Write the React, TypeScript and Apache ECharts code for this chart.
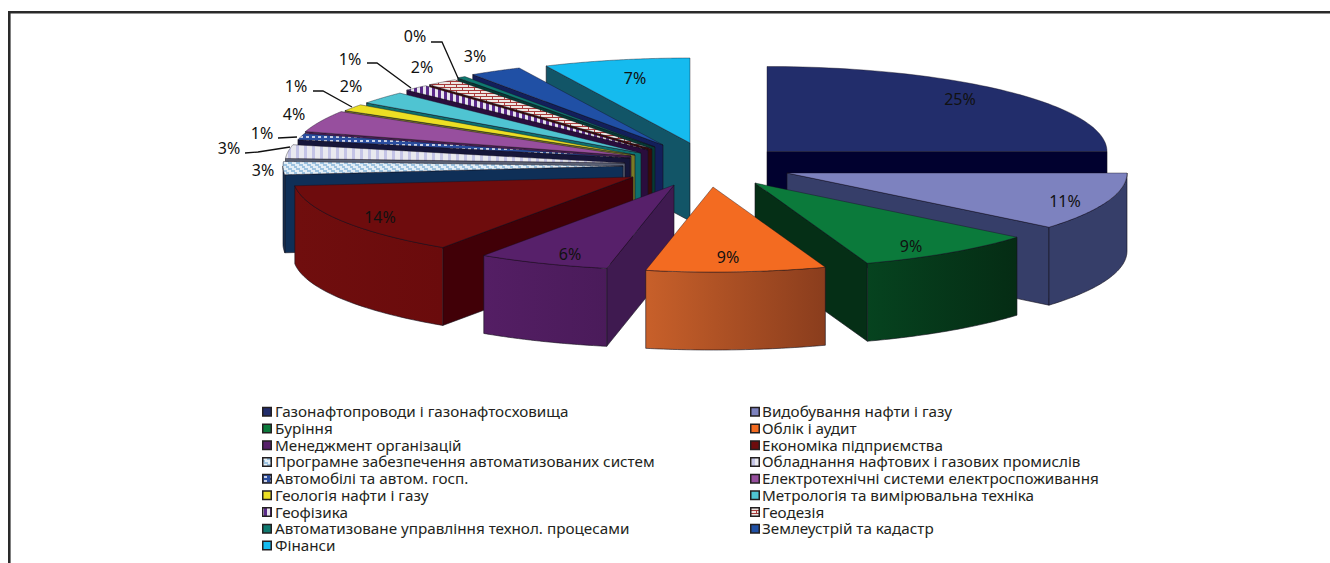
import React, { useEffect, useRef } from "react";
import * as echarts from "echarts";

const categories = [
  "Газонафтопроводи і газонафтосховища",
  "Видобування нафти і газу",
  "Буріння",
  "Облік і аудит",
  "Менеджмент організацій",
  "Економіка підприємства",
  "Програмне забезпечення автоматизованих систем",
  "Обладнання нафтових і газових промислів",
  "Автомобілі та автом. госп.",
  "Електротехнічні системи електроспоживання",
  "Геологія нафти і газу",
  "Метрологія та вимірювальна техніка",
  "Геофізика",
  "Геодезія",
  "Автоматизоване управління технол. процесами",
  "Землеустрій та кадастр",
  "Фінанси",
];
const shares = [25, 11, 8.64, 8.53, 6.28, 13.9, 2.5, 2.6, 1.2, 4.1, 1.3, 2.4, 1.2, 1.5, 0.4, 2.5, 6.95];

// layout of the exploded pie (one hub per slice, ellipse radii, extrusion)
const hubs = [
  [767, 151.5], [787, 173], [755, 183], [713, 187], [674, 185], [633, 177], [623, 166], [625, 163], [630, 158],
  [631, 156], [635, 155], [641, 153], [648, 150], [652, 149], [655, 147], [663, 145], [690, 143],
];
const labelSpots = [
  [960, 99], [1065, 201], [911, 246], [728, 257], [570, 254], [380, 217], [263, 170], [229, 148], [262, 133],
  [294, 114], [296, 86], [351, 86], [350, 59], [422, 67], [415, 36], [475, 56], [635, 78],
];
const leaders = [
  [[431, 42], [442, 42], [458, 78]],
  [[367, 63], [377, 63], [411, 88]],
  [[313, 91], [323, 91], [352, 107]],
  [[278, 138], [297, 137]],
  [[245, 153], [258, 152], [290, 147]],
];
const paintOrder = [0, 1, 2, 16, 15, 14, 13, 12, 11, 10, 9, 8, 7, 6, 5, 4, 3];
const topColors = [
  "#222d6b", "#7d82bf", "#0b7a3b", "#f36b21", "#57206a", "#6e0c0d", "p0", "p1", "p2",
  "#974f9e", "#ecdf24", "#4fc4d2", "p3", "p4", "#0f7a70", "#2050a5", "#15bbef",
];
const sideColors = [
  "#01012f", "#363e69", "#052f16", "#8e3f1e", "#3f1a50", "#410007", "#0f2f57", "#596074", "#16163a",
  "#4b1f55", "#7a7a26", "#0e6f6f", "#2a0d3d", "#3a0a0a", "#063a34", "#131f5a", "#125567",
];
const rimLeftColors = [
  "#01012f", "#363e69", "#06431f", "#c8602a", "#541e64", "#700e0e", "#0f2f57", "#596074", "#16163a",
  "#4b1f55", "#7a7a26", "#0e6f6f", "#2a0d3d", "#3a0a0a", "#063a34", "#131f5a", "#125567",
];
const rimRightColors = [
  "#01012f", "#363e69", "#052c14", "#8a3d1d", "#4a1b5a", "#6a0b0c", "#0f2f57", "#596074", "#16163a",
  "#4b1f55", "#7a7a26", "#0e6f6f", "#2a0d3d", "#3a0a0a", "#063a34", "#131f5a", "#125567",
];

const RX = 340;
const RY = 85;
const DEPTH = 78;
const FONT = '"Noto Sans", sans-serif';
const LEGEND_STRETCH = 1.09;

function makePattern(w: number, h: number, draw: (c: CanvasRenderingContext2D) => void) {
  const cv = document.createElement("canvas");
  cv.width = w;
  cv.height = h;
  draw(cv.getContext("2d") as CanvasRenderingContext2D);
  return { image: cv, repeat: "repeat" };
}

function buildPatterns(): Record<string, any> {
  return {
    p0: makePattern(8, 6, (c) => {
      c.fillStyle = "#e4eef6";
      c.fillRect(0, 0, 8, 6);
      c.fillStyle = "#9cc2e0";
      c.fillRect(0, 0, 4, 2);
      c.fillRect(3, 2, 4, 2);
      c.fillRect(6, 4, 2, 2);
      c.fillRect(0, 4, 1, 2);
    }),
    p1: makePattern(8, 4, (c) => {
      c.fillStyle = "#e9e9ef";
      c.fillRect(0, 0, 8, 4);
      c.fillStyle = "#c4c4e6";
      c.fillRect(0, 0, 3, 4);
    }),
    p2: makePattern(6, 4, (c) => {
      c.fillStyle = "#2b4ea0";
      c.fillRect(0, 0, 6, 4);
      c.fillStyle = "#c8cfe4";
      c.fillRect(0, 0, 3, 2);
    }),
    p3: makePattern(6, 4, (c) => {
      c.fillStyle = "#e8e4ee";
      c.fillRect(0, 0, 6, 4);
      c.fillStyle = "#5a2a8a";
      c.fillRect(0, 0, 3, 4);
    }),
    p4: makePattern(12, 6, (c) => {
      c.fillStyle = "#eee6e2";
      c.fillRect(0, 0, 12, 6);
      c.fillStyle = "#a83a3a";
      c.fillRect(0, 0, 12, 1);
      c.fillRect(0, 3, 12, 1);
      c.fillRect(0, 0, 1, 3);
      c.fillRect(6, 3, 1, 3);
    }),
  };
}

const total = shares.reduce((a, b) => a + b, 0);
const startAngles: number[] = [];
shares.reduce((acc, v, i) => {
  startAngles[i] = (acc / total) * 360;
  return acc + v;
}, 0);

function rimPoint(i: number, deg: number) {
  const r = (deg * Math.PI) / 180;
  return [hubs[i][0] + RX * Math.sin(r), hubs[i][1] - RY * Math.cos(r)];
}

function radialFaceVisible(i: number, p: number[], mid: number[]) {
  const [ax, ay] = hubs[i];
  const dx = p[0] - ax;
  const dy = p[1] - ay;
  let nx = -dy;
  let ny = dx;
  if (nx * (mid[0] - ax) + ny * (mid[1] - ay) > 0) {
    nx = -nx;
    ny = -ny;
  }
  return ny > 1e-6;
}

export default function App() {
  const ref = useRef<HTMLDivElement>(null);
  useEffect(() => {
    const chart = echarts.init(ref.current as HTMLDivElement, undefined, { renderer: "svg" });
    const patterns = buildPatterns();
    const paint = (c: string) => patterns[c] || c;

    const renderItem = (_p: any, api: any) => {
      const i = api.value(0);
      const rank = paintOrder.indexOf(i) * 10 + 1;
      const a0 = startAngles[i];
      const a1 = a0 + (api.value(1) / total) * 360;
      const hub = hubs[i];
      const p0 = rimPoint(i, a0);
      const p1 = rimPoint(i, a1);
      const mid = rimPoint(i, (a0 + a1) / 2);
      const children: any[] = [];
      const stroke = { stroke: "#14101c", lineWidth: 0.6 };
      [p0, p1].forEach((p, k) => {
        if (radialFaceVisible(i, p, mid)) {
          children.push({
            type: "polygon",
            z2: rank + k,
            shape: { points: [hub, p, [p[0], p[1] + DEPTH], [hub[0], hub[1] + DEPTH]] },
            style: { fill: sideColors[i], ...stroke },
          });
        }
      });
      const r0 = Math.max(a0, 90);
      const r1 = Math.min(a1, 270);
      if (r1 > r0) {
        const upper: number[][] = [];
        for (let k = 0; k <= 40; k++) upper.push(rimPoint(i, r0 + ((r1 - r0) * k) / 40));
        const lower = upper.map((q) => [q[0], q[1] + DEPTH]).reverse();
        children.push({
          type: "polygon",
          z2: rank + 3,
          shape: { points: upper.concat(lower) },
          style: {
            fill: {
              type: "linear",
              x: 1,
              y: 0,
              x2: 0,
              y2: 0,
              colorStops: [
                { offset: 0, color: rimRightColors[i] },
                { offset: 1, color: rimLeftColors[i] },
              ],
            },
            ...stroke,
          },
        });
      }
      const top: number[][] = [hub];
      for (let k = 0; k <= 60; k++) top.push(rimPoint(i, a0 + ((a1 - a0) * k) / 60));
      children.push({
        type: "polygon",
        z2: rank + 5,
        shape: { points: top },
        style: { fill: paint(topColors[i]), stroke: "#14101c", lineWidth: 0.4 },
      });
      children.push({
        type: "text",
        z2: 1000,
        style: {
          text: `${Math.round(api.value(1))}%`,
          x: labelSpots[i][0],
          y: labelSpots[i][1],
          align: "center",
          verticalAlign: "middle",
          font: `16px ${FONT}`,
          fill: "#111",
        },
      });
      return { type: "group", children };
    };

    const legendItems: any[] = [];
    categories.forEach((name, i) => {
      const col = i % 2;
      const row = Math.floor(i / 2);
      const y = 412 + row * 16.72;
      const x = col === 0 ? 262 : 750;
      legendItems.push({
        type: "rect",
        shape: { x: x + 0.75, y: y - 4.5, width: 8.5, height: 8.5 },
        style: { fill: paint(topColors[i]), stroke: "#231f20", lineWidth: 1.5 },
      });
      legendItems.push({
        type: "text",
        x: x + 13 - (col === 0 ? 0 : 1),
        y: y - 0.5,
        scaleX: LEGEND_STRETCH,
        style: {
          text: name,
          x: 0,
          y: 0,
          verticalAlign: "middle",
          font: `14px ${FONT}`,
          fill: "#231f20",
        },
      });
    });

    const leaderItems = leaders.map((pts) => ({
      type: "polyline",
      z: 5,
      shape: { points: pts },
      style: { fill: "none", stroke: "#111", lineWidth: 1.3 },
    }));

    chart.setOption({
      animation: false,
      backgroundColor: "#ffffff",
      series: [
        {
          type: "custom",
          coordinateSystem: "none",
          silent: true,
          renderItem,
          data: shares.map((v, i) => [i, v]),
        },
      ],
      graphic: [
        { type: "rect", shape: { x: 8, y: 11, width: 1322, height: 2.6 }, style: { fill: "#2a2a2a" } },
        { type: "rect", shape: { x: 8, y: 11, width: 2.6, height: 552 }, style: { fill: "#2a2a2a" } },
        ...leaderItems,
        ...legendItems,
      ],
    });
    return () => chart.dispose();
  }, []);
  return <div ref={ref} style={{ position: "fixed", left: 0, top: 0, width: 1330, height: 563, background: "#fff" }} />;
}
